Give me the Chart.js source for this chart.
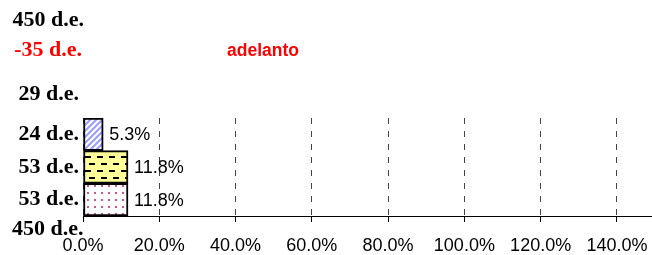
<!DOCTYPE html>
<html>
<head>
<meta charset="utf-8">
<script src="https://cdn.jsdelivr.net/npm/chart.js@4/dist/chart.umd.min.js"></script>
<style>
  html, body { margin: 0; padding: 0; background: #fff; overflow: hidden; }
  canvas { display: block; }
</style>
</head>
<body>
<canvas id="c" width="652" height="255"></canvas>
<script>
// ---- data ----
const categories = ['24 d.e.', '53 d.e.', '53 d.e.'];
const shares = [5.3, 11.8, 11.8];
const tickValues = [0, 20, 40, 60, 80, 100, 120, 140];
const upperLabels = ['450 d.e.', '-35 d.e.', '29 d.e.'];
const lowerLabel = '450 d.e.';
const noteText = 'adelanto';

const canvas = document.getElementById('c');
const ctx = canvas.getContext('2d');

function makeTile(w, h, draw) {
  const t = document.createElement('canvas');
  t.width = w; t.height = h;
  draw(t.getContext('2d'));
  return ctx.createPattern(t, 'repeat');
}
const hatch = makeTile(6, 6, g => {
  g.fillStyle = '#ffffff'; g.fillRect(0, 0, 6, 6);
  g.strokeStyle = '#9a9cff'; g.lineWidth = 2;
  g.beginPath();
  g.moveTo(-1, 7); g.lineTo(7, -1);
  g.moveTo(-4, 4); g.lineTo(4, -4);
  g.moveTo(2, 10); g.lineTo(10, 2);
  g.stroke();
});
const dashes = makeTile(12, 14, g => {
  g.fillStyle = '#ffff99'; g.fillRect(0, 0, 12, 14);
  g.fillStyle = '#000000';
  g.fillRect(1, 2, 6, 2);
  g.fillRect(5, 9, 6, 2);
});
const dots = makeTile(7, 7, g => {
  g.fillStyle = '#ffffff'; g.fillRect(0, 0, 7, 7);
  g.fillStyle = '#d0558f';
  g.fillRect(3, 3, 2, 2);
});
const fills = [hatch, dashes, dots];

const SERIF_B = 'bold 22px "Liberation Serif", "Times New Roman", serif';
const SANS = '18px "Liberation Sans", Arial, sans-serif';
const SANS_B = 'bold 17.5px "Liberation Sans", Arial, sans-serif';

const extraText = {
  id: 'extraText',
  afterDraw(chart) {
    const c = chart.ctx;
    c.save();
    c.textBaseline = 'middle';
    c.font = SERIF_B;
    c.textAlign = 'right';
    const ys = [20, 50, 94];
    const xs = [84, 82, 79];
    const cols = ['#000000', '#ff0000', '#000000'];
    upperLabels.forEach((t, i) => {
      c.fillStyle = cols[i];
      c.fillText(t, xs[i], ys[i]);
    });
    c.textAlign = 'left';
    c.fillStyle = '#000000';
    c.fillText(lowerLabel, 12, 229);
    c.font = SANS_B;
    c.fillStyle = '#ff0000';
    c.fillText(noteText, 227, 51);
    c.restore();
  }
};

const valueLabels = {
  id: 'valueLabels',
  afterDatasetsDraw(chart) {
    const c = chart.ctx;
    const meta = chart.getDatasetMeta(0);
    c.save();
    c.font = SANS;
    c.fillStyle = '#000000';
    c.textAlign = 'left';
    c.textBaseline = 'middle';
    meta.data.forEach((bar, i) => {
      c.fillText(shares[i].toFixed(1) + '%', bar.x + 6, bar.y + 1);
    });
    c.restore();
  }
};

new Chart(canvas, {
  type: 'bar',
  data: {
    labels: categories,
    datasets: [{
      data: shares,
      backgroundColor: fills,
      borderColor: '#000000',
      borderWidth: 2,
      borderSkipped: false,
      barPercentage: 1,
      categoryPercentage: 1
    }]
  },
  options: {
    indexAxis: 'y',
    responsive: false,
    devicePixelRatio: 1,
    animation: false,
    layout: { padding: { top: 118, left: 0, right: 0, bottom: 0 } },
    plugins: { legend: { display: false }, tooltip: { enabled: false } },
    scales: {
      x: {
        min: 0,
        max: 149.2,
        afterBuildTicks(scale) {
          scale.ticks = tickValues.map(v => ({ value: v }));
        },
        afterFit(scale) {
          scale.height = 39;
          scale.paddingLeft = 0;
          scale.paddingRight = 0;
        },
        ticks: {
          font: { family: '"Liberation Sans", Arial, sans-serif', size: 18 },
          color: '#000000',
          padding: 13,
          maxRotation: 0,
          autoSkip: false,
          callback: v => Number(v).toFixed(1) + '%'
        },
        grid: {
          color: '#444444',
          lineWidth: 1,
          tickLength: 6,
          tickColor: '#000000',
          tickBorderDash: []
        },
        border: { display: true, color: '#000000', width: 1, dash: [6, 7] }
      },
      y: {
        afterFit(scale) { scale.width = 83; },
        ticks: {
          font: { family: '"Liberation Serif", "Times New Roman", serif', size: 22, weight: 'bold' },
          color: '#000000',
          padding: 4
        },
        grid: { display: false, drawTicks: false },
        border: { display: false }
      }
    }
  },
  plugins: [extraText, valueLabels]
});
</script>
</body>
</html>
